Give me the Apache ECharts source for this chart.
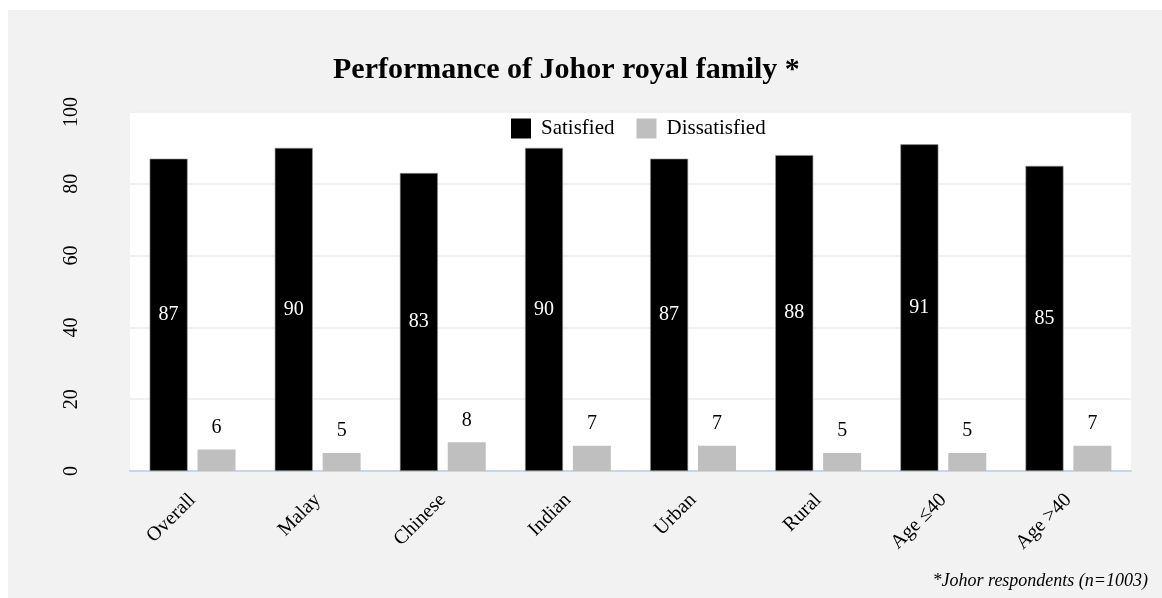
<!DOCTYPE html>
<html>
<head>
<meta charset="utf-8">
<script src="https://cdn.jsdelivr.net/npm/echarts@6/dist/echarts.min.js"></script>
<style>
html,body{margin:0;padding:0;background:#ffffff;}
#chart{position:absolute;left:8px;top:10px;width:1154px;height:588px;}
</style>
</head>
<body>
<div id="chart"></div>
<script>
const categories = ['Overall', 'Malay', 'Chinese', 'Indian', 'Urban', 'Rural', 'Age \u226440', 'Age >40'];
const satisfied = [87, 90, 83, 90, 87, 88, 91, 85];
const dissatisfied = [6, 5, 8, 7, 7, 5, 5, 7];
const yTicks = [0, 20, 40, 60, 80, 100];
const titleText = 'Performance of Johor royal family *';
const footnote = '*Johor respondents (n=1003)';

const FONT = "'Liberation Serif', 'Times New Roman', serif";
const chart = echarts.init(document.getElementById('chart'));
chart.setOption({
  backgroundColor: '#f2f2f2',
  animation: false,
  textStyle: { fontFamily: FONT },
  title: {
    text: titleText,
    left: 320,
    top: 40,
    textStyle: { fontFamily: FONT, fontSize: 30, fontWeight: 'bold', color: '#000' }
  },
  legend: {
    data: ['Satisfied', 'Dissatisfied'],
    left: 498,
    top: 103,
    itemWidth: 20,
    itemHeight: 20,
    itemGap: 22,
    icon: 'rect',
    itemStyle: { borderWidth: 0 },
    textStyle: { fontFamily: FONT, fontSize: 21, color: '#000', padding: [0, 0, 0, 5] }
  },
  grid: {
    left: 122, right: 31, top: 102, bottom: 127,
    show: true, backgroundColor: '#ffffff', borderWidth: 0
  },
  xAxis: {
    type: 'category',
    data: categories,
    axisLine: { lineStyle: { color: '#c6d6ec', width: 2 } },
    axisTick: { show: false },
    axisLabel: { rotate: 45, fontFamily: FONT, fontSize: 20, color: '#000', margin: 26 }
  },
  yAxis: {
    type: 'value',
    min: yTicks[0],
    max: yTicks[yTicks.length - 1],
    interval: 20,
    axisLine: { show: false },
    axisTick: { show: false },
    splitLine: { lineStyle: { color: '#f0f0f0', width: 2 } },
    axisLabel: { rotate: 90, fontFamily: FONT, fontSize: 20, color: '#000', margin: 48 }
  },
  series: [
    {
      name: 'Satisfied',
      type: 'bar',
      data: satisfied,
      barWidth: 38,
      barGap: '26%',
      itemStyle: { color: '#000000', borderColor: '#9a9a9a', borderWidth: 0.6 },
      label: { show: true, position: 'inside', color: '#ffffff', fontFamily: FONT, fontSize: 20 }
    },
    {
      name: 'Dissatisfied',
      type: 'bar',
      data: dissatisfied,
      barWidth: 38,
      itemStyle: { color: '#bfbfbf' },
      label: { show: true, position: 'top', distance: 12, color: '#000', fontFamily: FONT, fontSize: 20 }
    }
  ],
  graphic: [
    {
      type: 'text',
      right: 14,
      top: 562,
      style: { text: footnote, fontFamily: FONT, fontSize: 18, fontStyle: 'italic', fill: '#000' }
    }
  ]
});
</script>
</body>
</html>
